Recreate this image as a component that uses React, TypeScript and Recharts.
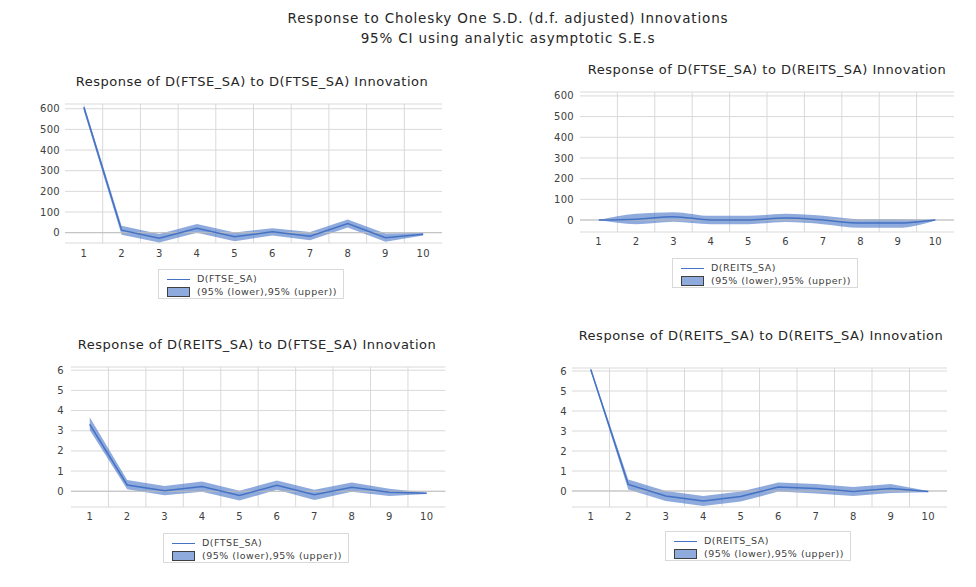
import React from 'react';
import { ComposedChart, Area, Line, XAxis, YAxis, CartesianGrid, ReferenceLine } from 'recharts';

const periods = [1, 2, 3, 4, 5, 6, 7, 8, 9, 10];
const bandBounds = [1.5, 2.5, 3.5, 4.5, 5.5, 6.5, 7.5, 8.5, 9.5];
const ftseTicks = [0, 100, 200, 300, 400, 500, 600];
const reitsTicks = [0, 1, 2, 3, 4, 5, 6];

const mainTitle1 = 'Response to Cholesky One S.D. (d.f. adjusted) Innovations';
const mainTitle2 = '95% CI using analytic asymptotic S.E.s';
const bandLabel = '(95% (lower),95% (upper))';

// Response of D(FTSE_SA) to D(FTSE_SA)
const ffMean = [607, 12, -27, 21, -20, 4, -17, 44, -24, -8];
const ffLower = [590, -10, -47, 0, -41, -14, -37, 25, -44, -14];
const ffUpper = [622, 33, -7, 42, 1, 22, 3, 64, -4, -2];

// Response of D(FTSE_SA) to D(REITS_SA)
const frMean = [0, 4, 16, 0, 0, 10, 0, -15, -15, 0];
const frLower = [0, -20, -8, -20, -20, -10, -20, -38, -38, -2];
const frUpper = [0, 30, 38, 20, 20, 30, 20, 4, 4, 2];

// Response of D(REITS_SA) to D(FTSE_SA)
const rfMean = [3.32, 0.31, 0.03, 0.23, -0.21, 0.3, -0.17, 0.2, -0.05, -0.1];
const rfLower = [3.04, 0.1, -0.2, -0.02, -0.46, 0.07, -0.43, -0.03, -0.23, -0.13];
const rfUpper = [3.67, 0.56, 0.26, 0.48, 0.03, 0.53, 0.07, 0.43, 0.13, -0.07];

// Response of D(REITS_SA) to D(REITS_SA)
const rrMean = [6.08, 0.33, -0.25, -0.5, -0.28, 0.2, 0.12, -0.03, 0.13, -0.03];
const rrLower = [6.0, 0.08, -0.5, -0.75, -0.53, -0.03, -0.12, -0.25, -0.1, -0.06];
const rrUpper = [6.15, 0.58, 0.0, -0.25, -0.03, 0.42, 0.35, 0.2, 0.35, 0.0];

const build = (mean: number[], lower: number[], upper: number[]) =>
  periods.map((t, i) => ({ t, mean: mean[i], band: [lower[i], upper[i]] }));

const FONT = '"DejaVu Sans", Verdana, sans-serif';
const TEXT = '#404040';
const BLUE = '#4472c4';
const TOPPAD = 10;

type PanelProps = {
  data: any[];
  left: number; top: number; pw: number; ph: number;
  yw: number; xh: number; ym: number; xm: number;
  domain: [number, number]; ticks: number[]; curve: any;
};

function Panel(p: PanelProps) {
  const tickStyle = { fontSize: 10, fill: TEXT, fontFamily: FONT, letterSpacing: 0.3 };
  return (
    <div style={{ position: 'absolute', left: p.left - p.yw, top: p.top - TOPPAD }}>
      <ComposedChart width={p.yw + p.pw} height={p.ph + p.xh + TOPPAD} data={p.data}
        margin={{ top: TOPPAD, right: 0, bottom: 0, left: 0 }}>
        <CartesianGrid stroke="#d9d9d9" verticalValues={bandBounds} />
        <XAxis dataKey="t" type="number" domain={[0.5, 10.5]} ticks={periods} interval={0}
          allowDataOverflow axisLine={false} tickLine={false} tickSize={0} tickMargin={p.xm}
          height={p.xh} tick={tickStyle} />
        <YAxis type="number" domain={p.domain} ticks={p.ticks} interval={0} allowDataOverflow
          axisLine={false} tickLine={false} tickSize={0} tickMargin={p.ym} width={p.yw} tick={tickStyle} />
        <ReferenceLine y={0} stroke="#bfbfbf" />
        <Area dataKey="band" type={p.curve} stroke="none" fill={BLUE} fillOpacity={0.6}
          isAnimationActive={false} />
        <Line dataKey="mean" type={p.curve} stroke={BLUE} strokeWidth={1.5} dot={false}
          isAnimationActive={false} />
      </ComposedChart>
    </div>
  );
}

function Title({ text, cx, cy, size, ls }: { text: string; cx: number; cy: number; size: number; ls: number }) {
  return (
    <div style={{
      position: 'absolute', left: cx - 300, width: 600, top: cy - 10, height: 20, lineHeight: '20px',
      textAlign: 'center', fontFamily: FONT, fontSize: size, letterSpacing: ls, color: '#262626',
      whiteSpace: 'nowrap',
    }}>{text}</div>
  );
}

function LegendBox({ left, top, name }: { left: number; top: number; name: string }) {
  const txt: React.CSSProperties = {
    position: 'absolute', left: 38, height: 12, lineHeight: '12px', fontFamily: FONT,
    fontSize: 9.5, letterSpacing: 0.5, color: TEXT, whiteSpace: 'nowrap',
  };
  return (
    <div style={{ position: 'absolute', left, top, width: 186, height: 30, border: '1px solid #d9d9d9',
      boxSizing: 'border-box', background: '#fff' }}>
      <div style={{ position: 'absolute', left: 8, top: 9, width: 23, height: 1, background: BLUE }} />
      <div style={{ ...txt, top: 3 }}>{name}</div>
      <div style={{ position: 'absolute', left: 8, top: 17, width: 23, height: 10, background: '#8faadc',
        border: '1px solid #404040', boxSizing: 'border-box' }} />
      <div style={{ ...txt, top: 16 }}>{bandLabel}</div>
    </div>
  );
}

export default function App() {
  return (
    <div style={{ position: 'absolute', left: 0, top: 0, width: 976, height: 587, background: '#fff', overflow: 'hidden' }}>
      <Title text={mainTitle1} cx={508} cy={17.5} size={13.5} ls={0.85} />
      <Title text={mainTitle2} cx={508} cy={37.5} size={13.5} ls={0.85} />

      <Title text="Response of D(FTSE_SA) to D(FTSE_SA) Innovation" cx={252} cy={81.5} size={13} ls={0.5} />
      <Title text="Response of D(FTSE_SA) to D(REITS_SA) Innovation" cx={767} cy={69.5} size={13} ls={0.5} />
      <Title text="Response of D(REITS_SA) to D(FTSE_SA) Innovation" cx={257} cy={345} size={13} ls={0.5} />
      <Title text="Response of D(REITS_SA) to D(REITS_SA) Innovation" cx={761} cy={336} size={13} ls={0.5} />

      <Panel data={build(ffMean, ffLower, ffUpper)} left={64.5} top={104} pw={377} ph={139}
        yw={40} xh={20} ym={5} xm={7} domain={[-50, 623]} ticks={ftseTicks} curve="linear" />
      <Panel data={build(frMean, frLower, frUpper)} left={580} top={92} pw={374} ph={140}
        yw={40} xh={20} ym={6} xm={5.5} domain={[-58, 619]} ticks={ftseTicks} curve="monotone" />
      <Panel data={build(rfMean, rfLower, rfUpper)} left={71.3} top={366.7} pw={374.4} ph={140}
        yw={40} xh={20} ym={7} xm={6} domain={[-0.78, 6.16]} ticks={reitsTicks} curve="linear" />
      <Panel data={build(rrMean, rrLower, rrUpper)} left={572} top={368} pw={375} ph={139}
        yw={40} xh={20} ym={5} xm={5.5} domain={[-0.8, 6.15]} ticks={reitsTicks} curve="linear" />

      <LegendBox left={158} top={269} name="D(FTSE_SA)" />
      <LegendBox left={672} top={258} name="D(REITS_SA)" />
      <LegendBox left={163} top={533} name="D(FTSE_SA)" />
      <LegendBox left={665} top={531} name="D(REITS_SA)" />
    </div>
  );
}
